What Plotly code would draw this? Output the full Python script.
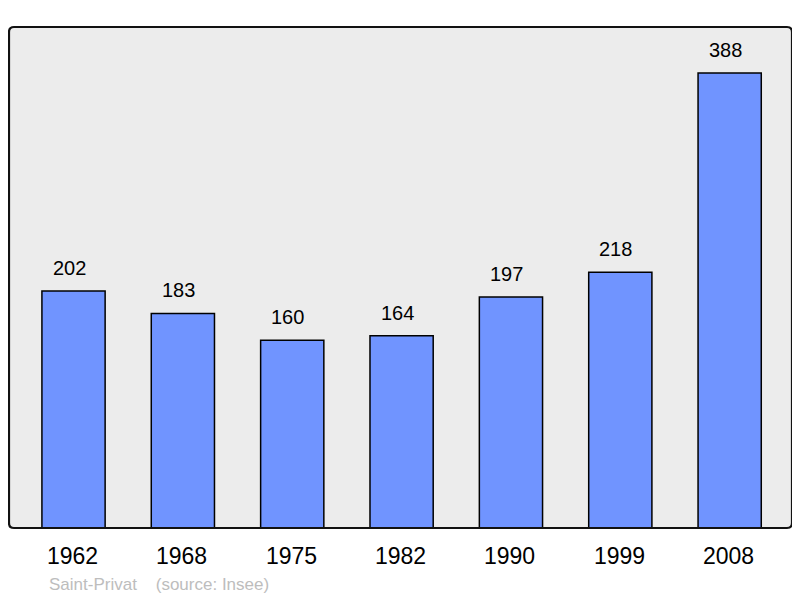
import plotly.graph_objects as go

years = ["1962", "1968", "1975", "1982", "1990", "1999", "2008"]
population = [202, 183, 160, 164, 197, 218, 388]
footer_place = "Saint-Privat"
footer_source = "(source: Insee)"

# page body has an 8px margin; compensate so the plot lands where the reference has it
OFF = 8
W, H = 800 - OFF, 598 - OFF
L, T = 9 - OFF, 27 - OFF
pw, ph = 783, 501
R = W - L - pw
B = H - T - ph

fig = go.Figure()
fig.add_trace(go.Bar(
    x=list(range(len(years))), y=population, width=0.578,
    marker=dict(color="#7094ff", line=dict(color="black", width=1.5)),
    hoverinfo="skip",
))

for i, (yr, v) in enumerate(zip(years, population)):
    fig.add_annotation(x=i, y=v, text=str(v), showarrow=False, yanchor="bottom",
                       yshift=10, xshift=-4.5, font=dict(size=20, color="black"))
    fig.add_annotation(x=i, y=0, yref="y", text=yr, showarrow=False, yanchor="middle",
                       yshift=-28, xshift=-1, font=dict(size=23, color="black"))

fig.add_annotation(xref="paper", yref="paper", x=(49 - 9) / pw, y=0, xanchor="left",
                   yanchor="middle", yshift=-56, xshift=-2.5, showarrow=False,
                   text=footer_place + "&nbsp;&nbsp;&nbsp;&nbsp;" + footer_source,
                   font=dict(size=17, color="#bdbdbd"))

# rounded border
rx, ry = 5 / pw, 5 / ph
path = (f"M {rx},0 L {1-rx},0 Q 1,0 1,{ry} L 1,{1-ry} Q 1,1 {1-rx},1 "
        f"L {rx},1 Q 0,1 0,{1-ry} L 0,{ry} Q 0,0 {rx},0 Z")
fig.add_shape(type="path", xref="paper", yref="paper", path=path,
              line=dict(color="#111111", width=2.2), layer="above")

fig.update_layout(
    width=W, height=H,
    margin=dict(l=L, r=R, t=T, b=B, pad=0),
    paper_bgcolor="white", plot_bgcolor="#ececec",
    font=dict(family="Liberation Sans, Arial, sans-serif"),
    showlegend=False,
    xaxis=dict(range=[-0.59, 6.57], showticklabels=False, showgrid=False,
               zeroline=False, fixedrange=True),
    yaxis=dict(range=[0, 427.2], showticklabels=False, showgrid=False,
               zeroline=False, fixedrange=True),
)

fig.write_html("out.html")
